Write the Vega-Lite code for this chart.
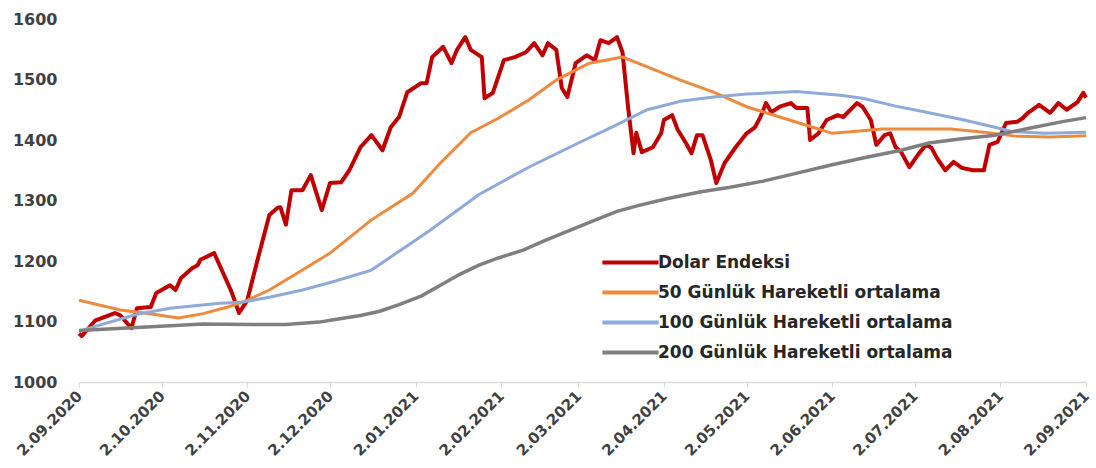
{
 "$schema": "https://vega.github.io/schema/vega-lite/v6.json",
 "width": 1007, "height": 363,
 "autosize": {"type": "none"},
 "padding": {"left": 79, "top": 19, "right": 10, "bottom": 86},
 "background": "white",
 "config": {"view": {"stroke": null}, "font": "DejaVu Sans"},
 "encoding": {
  "x": {"field": "date", "type": "temporal",
   "scale": {"type": "utc", "domain": [{"year": 2020, "month": 9, "date": 2, "utc": true}, {"year": 2021, "month": 9, "date": 2, "utc": true}]},
   "axis": {"values": [
     {"year": 2020, "month": 9, "date": 2, "utc": true}, {"year": 2020, "month": 10, "date": 2, "utc": true},
     {"year": 2020, "month": 11, "date": 2, "utc": true}, {"year": 2020, "month": 12, "date": 2, "utc": true},
     {"year": 2021, "month": 1, "date": 2, "utc": true}, {"year": 2021, "month": 2, "date": 2, "utc": true},
     {"year": 2021, "month": 3, "date": 2, "utc": true}, {"year": 2021, "month": 4, "date": 2, "utc": true},
     {"year": 2021, "month": 5, "date": 2, "utc": true}, {"year": 2021, "month": 6, "date": 2, "utc": true},
     {"year": 2021, "month": 7, "date": 2, "utc": true}, {"year": 2021, "month": 8, "date": 2, "utc": true},
     {"year": 2021, "month": 9, "date": 2, "utc": true}],
    "labelExpr": "utcFormat(datum.value, '%-d.%m.%Y')", "labelAngle": -45, "labelAlign": "right", "labelBaseline": "middle",
    "labelFontSize": 15, "labelFontWeight": "bold", "labelColor": "#404040", "labelPadding": 6,
    "labelOverlap": false, "labelFlush": false, "domainColor": "#D9D9D9", "domainWidth": 1.5,
    "tickColor": "#D9D9D9", "tickSize": 5, "grid": false, "title": null}},
  "y": {"field": "value", "type": "quantitative", "scale": {"domain": [1000, 1600]},
   "axis": {"values": [1000, 1100, 1200, 1300, 1400, 1500, 1600], "format": "d", "domain": false, "ticks": false, "grid": false,
    "labelFontSize": 16, "labelFontWeight": "bold", "labelColor": "#404040", "labelPadding": 22, "title": null}}
 },
 "layer": [
  {"data": {"values": [
   {"date":"2020-09-02","value":1080},{"date":"2020-09-03","value":1076},{"date":"2020-09-08","value":1102},{"date":"2020-09-15","value":1114},{"date":"2020-09-17","value":1110},{"date":"2020-09-21","value":1089},{"date":"2020-09-23","value":1122},{"date":"2020-09-28","value":1124},{"date":"2020-09-30","value":1147},{"date":"2020-10-05","value":1160},{"date":"2020-10-07","value":1152},{"date":"2020-10-09","value":1172},{"date":"2020-10-13","value":1188},{"date":"2020-10-15","value":1193},{"date":"2020-10-16","value":1202},{"date":"2020-10-21","value":1213},{"date":"2020-10-27","value":1152},{"date":"2020-10-28","value":1140},{"date":"2020-10-30","value":1114},{"date":"2020-11-02","value":1135},{"date":"2020-11-06","value":1207},{"date":"2020-11-10","value":1276},{"date":"2020-11-13","value":1288},{"date":"2020-11-14","value":1289},{"date":"2020-11-16","value":1260},{"date":"2020-11-18","value":1317},{"date":"2020-11-22","value":1317},{"date":"2020-11-25","value":1342},{"date":"2020-11-29","value":1284},{"date":"2020-12-02","value":1329},{"date":"2020-12-06","value":1330},{"date":"2020-12-09","value":1350},{"date":"2020-12-13","value":1388},{"date":"2020-12-17","value":1408},{"date":"2020-12-21","value":1383},{"date":"2020-12-24","value":1421},{"date":"2020-12-27","value":1438},{"date":"2020-12-30","value":1479},{"date":"2021-01-04","value":1494},{"date":"2021-01-06","value":1494},{"date":"2021-01-08","value":1537},{"date":"2021-01-12","value":1554},{"date":"2021-01-15","value":1527},{"date":"2021-01-17","value":1549},{"date":"2021-01-20","value":1570},{"date":"2021-01-22","value":1549},{"date":"2021-01-26","value":1537},{"date":"2021-01-27","value":1469},{"date":"2021-01-30","value":1478},{"date":"2021-02-03","value":1532},{"date":"2021-02-07","value":1537},{"date":"2021-02-11","value":1545},{"date":"2021-02-14","value":1560},{"date":"2021-02-17","value":1540},{"date":"2021-02-19","value":1560},{"date":"2021-02-22","value":1549},{"date":"2021-02-24","value":1486},{"date":"2021-02-26","value":1471},{"date":"2021-03-01","value":1527},{"date":"2021-03-05","value":1540},{"date":"2021-03-08","value":1532},{"date":"2021-03-10","value":1565},{"date":"2021-03-13","value":1560},{"date":"2021-03-16","value":1570},{"date":"2021-03-18","value":1545},{"date":"2021-03-20","value":1455},{"date":"2021-03-22","value":1378},{"date":"2021-03-23","value":1412},{"date":"2021-03-25","value":1380},{"date":"2021-03-29","value":1388},{"date":"2021-04-01","value":1411},{"date":"2021-04-02","value":1433},{"date":"2021-04-05","value":1441},{"date":"2021-04-07","value":1417},{"date":"2021-04-10","value":1395},{"date":"2021-04-12","value":1378},{"date":"2021-04-14","value":1408},{"date":"2021-04-16","value":1408},{"date":"2021-04-19","value":1367},{"date":"2021-04-21","value":1329},{"date":"2021-04-24","value":1362},{"date":"2021-04-28","value":1388},{"date":"2021-05-02","value":1411},{"date":"2021-05-05","value":1421},{"date":"2021-05-07","value":1438},{"date":"2021-05-09","value":1461},{"date":"2021-05-11","value":1446},{"date":"2021-05-14","value":1455},{"date":"2021-05-18","value":1461},{"date":"2021-05-20","value":1453},{"date":"2021-05-24","value":1453},{"date":"2021-05-25","value":1400},{"date":"2021-05-28","value":1411},{"date":"2021-05-31","value":1433},{"date":"2021-06-04","value":1441},{"date":"2021-06-06","value":1438},{"date":"2021-06-11","value":1461},{"date":"2021-06-13","value":1455},{"date":"2021-06-16","value":1433},{"date":"2021-06-18","value":1392},{"date":"2021-06-21","value":1408},{"date":"2021-06-23","value":1411},{"date":"2021-06-25","value":1388},{"date":"2021-06-27","value":1380},{"date":"2021-06-30","value":1355},{"date":"2021-07-03","value":1375},{"date":"2021-07-06","value":1392},{"date":"2021-07-08","value":1387},{"date":"2021-07-10","value":1370},{"date":"2021-07-13","value":1350},{"date":"2021-07-16","value":1364},{"date":"2021-07-19","value":1354},{"date":"2021-07-23","value":1350},{"date":"2021-07-27","value":1350},{"date":"2021-07-29","value":1392},{"date":"2021-08-01","value":1397},{"date":"2021-08-04","value":1428},{"date":"2021-08-08","value":1430},{"date":"2021-08-10","value":1436},{"date":"2021-08-12","value":1445},{"date":"2021-08-16","value":1458},{"date":"2021-08-20","value":1445},{"date":"2021-08-23","value":1461},{"date":"2021-08-26","value":1450},{"date":"2021-08-30","value":1463},{"date":"2021-09-01","value":1478},{"date":"2021-09-02","value":1470}
  ]},
   "mark": {"type": "line", "strokeWidth": 4, "strokeJoin": "round"},
   "encoding": {"color": {"datum": "Dolar Endeksi", "type": "nominal",
    "scale": {"domain": ["Dolar Endeksi", "50 Günlük Hareketli ortalama", "100 Günlük Hareketli ortalama", "200 Günlük Hareketli ortalama"], "range": ["#C00000", "#EE8A3E", "#8EAADB", "#7F7F7F"]},
    "legend": {"title": null, "orient": "none", "legendX": 530, "legendY": 222, "symbolType": "M-1.45,0H1.45", "symbolSize": 1500, "symbolStrokeWidth": 4,
     "labelFontSize": 17, "labelFontWeight": "bold", "labelColor": "#262626", "labelOffset": 6, "labelLimit": 500, "rowPadding": 0, "padding": 0}}}},
  {"data": {"values": [
   {"date":"2020-09-02","value":1135},{"date":"2020-09-17","value":1119},{"date":"2020-09-29","value":1112},{"date":"2020-10-08","value":1106},{"date":"2020-10-17","value":1113},{"date":"2020-10-26","value":1124},{"date":"2020-11-02","value":1135},{"date":"2020-11-10","value":1152},{"date":"2020-11-22","value":1185},{"date":"2020-12-02","value":1213},{"date":"2020-12-17","value":1268},{"date":"2021-01-01","value":1312},{"date":"2021-01-11","value":1362},{"date":"2021-01-22","value":1412},{"date":"2021-02-01","value":1436},{"date":"2021-02-12","value":1466},{"date":"2021-02-22","value":1499},{"date":"2021-03-02","value":1518},{"date":"2021-03-06","value":1527},{"date":"2021-03-18","value":1537},{"date":"2021-03-27","value":1521},{"date":"2021-04-08","value":1499},{"date":"2021-04-20","value":1479},{"date":"2021-05-02","value":1455},{"date":"2021-05-14","value":1438},{"date":"2021-05-26","value":1421},{"date":"2021-06-02","value":1411},{"date":"2021-06-12","value":1415},{"date":"2021-06-20","value":1418},{"date":"2021-07-15","value":1418},{"date":"2021-07-27","value":1413},{"date":"2021-08-08","value":1406},{"date":"2021-08-20","value":1405},{"date":"2021-09-02","value":1407}
  ]},
   "mark": {"type": "line", "strokeWidth": 3},
   "encoding": {"color": {"datum": "50 Günlük Hareketli ortalama", "type": "nominal"}}},
  {"data": {"values": [
   {"date":"2020-09-02","value":1084},{"date":"2020-09-23","value":1112},{"date":"2020-10-05","value":1122},{"date":"2020-10-23","value":1130},{"date":"2020-10-31","value":1132},{"date":"2020-11-10","value":1140},{"date":"2020-11-22","value":1152},{"date":"2020-12-04","value":1167},{"date":"2020-12-17","value":1185},{"date":"2021-01-07","value":1250},{"date":"2021-01-25","value":1310},{"date":"2021-02-12","value":1355},{"date":"2021-03-02","value":1395},{"date":"2021-03-14","value":1421},{"date":"2021-03-27","value":1450},{"date":"2021-04-08","value":1464},{"date":"2021-04-20","value":1471},{"date":"2021-05-02","value":1476},{"date":"2021-05-20","value":1480},{"date":"2021-06-05","value":1474},{"date":"2021-06-13","value":1469},{"date":"2021-06-25","value":1456},{"date":"2021-07-07","value":1445},{"date":"2021-07-19","value":1434},{"date":"2021-07-31","value":1421},{"date":"2021-08-06","value":1414},{"date":"2021-08-18","value":1411},{"date":"2021-09-02","value":1413}
  ]},
   "mark": {"type": "line", "strokeWidth": 3},
   "encoding": {"color": {"datum": "100 Günlük Hareketli ortalama", "type": "nominal"}}},
  {"data": {"values": [
   {"date":"2020-09-02","value":1085},{"date":"2020-09-23","value":1090},{"date":"2020-10-17","value":1096},{"date":"2020-11-04","value":1095},{"date":"2020-11-16","value":1095},{"date":"2020-11-28","value":1099},{"date":"2020-12-05","value":1104},{"date":"2020-12-13","value":1110},{"date":"2020-12-20","value":1117},{"date":"2020-12-27","value":1128},{"date":"2021-01-04","value":1142},{"date":"2021-01-11","value":1160},{"date":"2021-01-18","value":1178},{"date":"2021-01-25","value":1193},{"date":"2021-02-01","value":1205},{"date":"2021-02-10","value":1218},{"date":"2021-02-18","value":1234},{"date":"2021-02-26","value":1249},{"date":"2021-03-06","value":1264},{"date":"2021-03-16","value":1282},{"date":"2021-03-24","value":1292},{"date":"2021-04-03","value":1303},{"date":"2021-04-15","value":1314},{"date":"2021-04-26","value":1322},{"date":"2021-05-08","value":1332},{"date":"2021-05-21","value":1346},{"date":"2021-06-02","value":1359},{"date":"2021-06-14","value":1371},{"date":"2021-06-27","value":1383},{"date":"2021-07-07","value":1395},{"date":"2021-07-19","value":1402},{"date":"2021-07-31","value":1408},{"date":"2021-08-12","value":1419},{"date":"2021-08-24","value":1430},{"date":"2021-09-02","value":1437}
  ]},
   "mark": {"type": "line", "strokeWidth": 3.5},
   "encoding": {"color": {"datum": "200 Günlük Hareketli ortalama", "type": "nominal"}}}
 ]
}
